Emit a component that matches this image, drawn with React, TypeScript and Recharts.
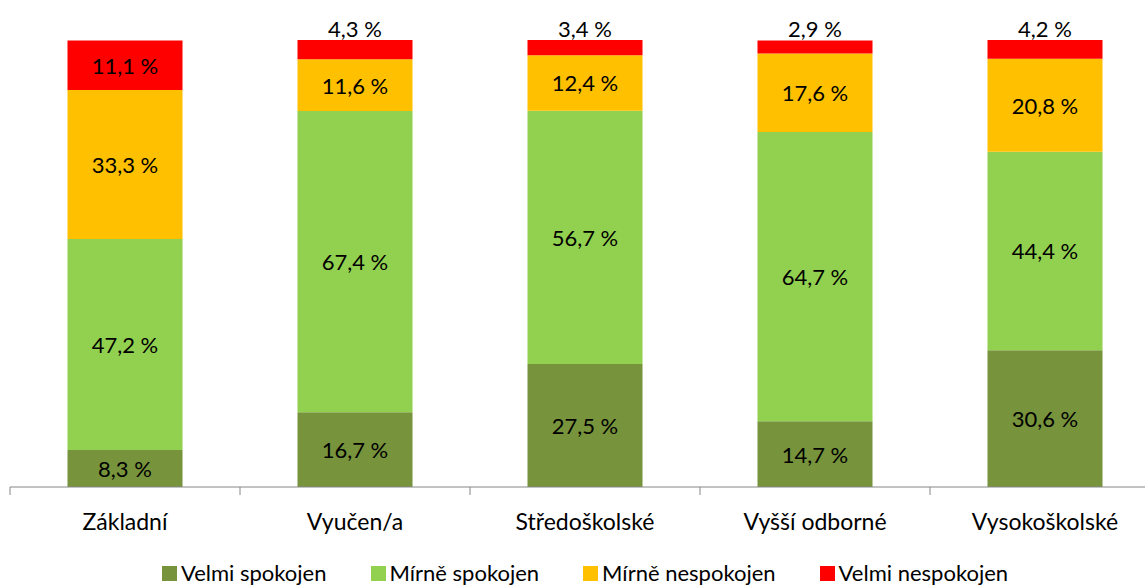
import React from "react";
import {
  BarChart,
  Bar,
  XAxis,
  YAxis,
  Legend,
  LabelList,
} from "recharts";

const categories = ["Základní", "Vyučen/a", "Středoškolské", "Vyšší odborné", "Vysokoškolské"];
const velmiSpokojen = [8.3, 16.7, 27.5, 14.7, 30.6];
const mirneSpokojen = [47.2, 67.4, 56.7, 64.7, 44.4];
const mirneNespokojen = [33.3, 11.6, 12.4, 17.6, 20.8];
const velmiNespokojen = [11.1, 4.3, 3.4, 2.9, 4.2];

const series = [
  { key: "velmiSpokojen", name: "Velmi spokojen", color: "#77933C" },
  { key: "mirneSpokojen", name: "Mírně spokojen", color: "#92D050" },
  { key: "mirneNespokojen", name: "Mírně nespokojen", color: "#FFC000" },
  { key: "velmiNespokojen", name: "Velmi nespokojen", color: "#FF0000" },
];

const data = categories.map((name, i) => ({
  name,
  velmiSpokojen: velmiSpokojen[i],
  mirneSpokojen: mirneSpokojen[i],
  mirneNespokojen: mirneNespokojen[i],
  velmiNespokojen: velmiNespokojen[i],
}));

const FONT = "Lato, 'Open Sans', sans-serif";
const AXIS = "#868686";
const fmt = (v: number) => v.toFixed(1).replace(".", ",") + " %";

// small top segments get their label above the bar
function SegmentLabel(props: any) {
  const { x, y, width, height, value } = props;
  const cx = x + width / 2;
  const above = height < 25;
  const cy = above ? y - 12 : y + height / 2;
  return (
    <text
      x={cx}
      y={cy}
      textAnchor="middle"
      dominantBaseline="central"
      fontFamily={FONT}
      fontSize={22}
      fill="#000"
    >
      {fmt(value)}
    </text>
  );
}

// category label plus tick marks on the band edges (Excel style)
function CategoryTick(props: any) {
  const { x, payload, index, visibleTicksCount } = props;
  const half = 115;
  const axisY = 487;
  const last = index === (visibleTicksCount ?? categories.length) - 1;
  return (
    <g>
      <line x1={x - half} x2={x - half} y1={axisY} y2={axisY + 8} stroke={AXIS} />
      {last && <line x1={x + half} x2={x + half} y1={axisY} y2={axisY + 8} stroke={AXIS} />}
      <text
        x={x}
        y={axisY + 34}
        textAnchor="middle"
        dominantBaseline="central"
        fontFamily={FONT}
        fontSize={23}
        fill="#000"
      >
        {payload.value}
      </text>
    </g>
  );
}

function LegendContent() {
  return (
    <div
      style={{
        display: "flex",
        justifyContent: "center",
        gap: 44,
        paddingTop: 29,
        fontFamily: FONT,
        fontSize: 22,
        lineHeight: "24px",
        color: "#000",
      }}
    >
      {series.map((s) => (
        <div key={s.key} style={{ display: "flex", alignItems: "center", gap: 4 }}>
          <span style={{ width: 15, height: 15, background: s.color, display: "inline-block" }} />
          <span>{s.name}</span>
        </div>
      ))}
    </div>
  );
}

export default function App() {
  return (
    <div
      style={{
        position: "fixed",
        left: 0,
        top: 0,
        width: 1145,
        height: 586,
        overflow: "hidden",
        background: "#fff",
      }}
    >
      <BarChart
        width={1170}
        height={586}
        data={data}
        margin={{ top: 40, right: 10, left: 10, bottom: 0 }}
        barCategoryGap="25%"
      >
        <XAxis
          dataKey="name"
          height={45}
          axisLine={{ stroke: AXIS }}
          tickLine={false}
          tick={<CategoryTick />}
          interval={0}
        />
        <YAxis hide domain={[0, 100]} allowDataOverflow />
        <Legend verticalAlign="bottom" height={54} content={<LegendContent />} />
        {series.map((s) => (
          <Bar
            key={s.key}
            dataKey={s.key}
            name={s.name}
            stackId="a"
            fill={s.color}
            isAnimationActive={false}
          >
            <LabelList dataKey={s.key} content={<SegmentLabel />} />
          </Bar>
        ))}
      </BarChart>
    </div>
  );
}
